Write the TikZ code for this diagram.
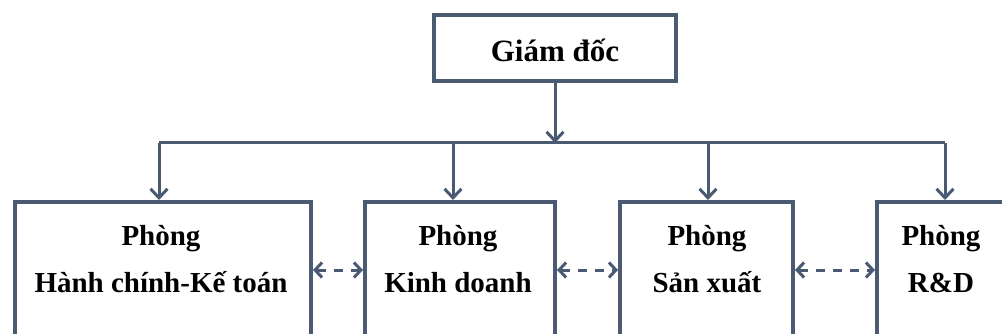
\documentclass[tikz,border=0pt]{standalone}
\usepackage{fontspec}
\setmainfont{Liberation Serif}
\usetikzlibrary{arrows.meta}
\definecolor{edge}{HTML}{4A5A72}
\begin{document}
\begin{tikzpicture}[x=1pt,y=-1pt,
  frame/.style={draw=edge, line width=4pt, fill=white, inner sep=0pt, rectangle},
  label/.style={font=\fontsize{29}{47}\selectfont\bfseries, align=center, inner sep=0pt, anchor=base},
  conn/.style={draw=edge, line width=3pt},
  tip/.style={conn, -{Straight Barb[length=9pt,width=17pt]}},
  dasharrow/.style={draw=edge, line width=3pt, dash pattern=on 9pt off 8pt,
    {Straight Barb[length=7pt,width=15pt]}-{Straight Barb[length=7pt,width=15pt]}}
]
\useasboundingbox (0,0) rectangle (1002,334);
\clip (0,0) rectangle (1002,334);

% director
\node[frame, minimum width=242pt, minimum height=66pt] (gd) at (555,48) {};
\node[font=\fontsize{31}{36}\selectfont\bfseries, inner sep=0pt, anchor=base] (gdt) at (555,62) {Giám đốc};

% departments (boxes run past the lower edge)
\node[frame, minimum width=296pt, minimum height=136pt] (hc) at (163,270) {};
\node[frame, minimum width=190pt, minimum height=136pt] (kd) at (460,270) {};
\node[frame, minimum width=173pt, minimum height=136pt] (sx) at (706.5,270) {};
\node[frame, minimum width=131pt, minimum height=136pt] (rd) at (942.5,270) {};

% anchor=base of a two-line node sits on the lower line
\node[label] (hct) at (161,292) {Phòng\\Hành chính-Kế toán};
\node[label] (kdt) at (458,292) {Phòng\\Kinh doanh};
\node[label] (sxt) at (707,292) {Phòng\\Sản xuất};
\node[label] (rdt) at (941,292) {Phòng\\R\&D};

% distribution bus
\coordinate (bus) at (555,143);
\coordinate (d1) at (159,143);
\coordinate (d2) at (453,143);
\coordinate (d3) at (708,143);
\coordinate (d4) at (945,143);

\draw[tip] (gd.south) -- (bus);
\draw[conn] (d1) -- (d4);
\draw[tip] (d1) -- (d1 |- hc.north);
\draw[tip] (d2) -- (d2 |- kd.north);
\draw[tip] (d3) -- (d3 |- sx.north);
\draw[tip] (d4) -- (d4 |- rd.north);

% cooperation between departments
\draw[dasharrow] (hc.east) -- (kd.west);
\draw[dasharrow] (kd.east) -- (sx.west);
\draw[dasharrow] (sx.east) -- (rd.west);
\end{tikzpicture}
\end{document}
